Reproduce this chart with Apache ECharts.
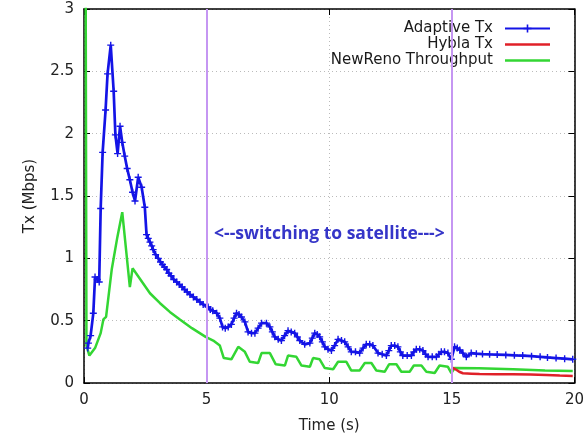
<!DOCTYPE html>
<html>
<head>
<meta charset="utf-8">
<title>Tx chart</title>
<script src="https://cdn.jsdelivr.net/npm/echarts@6/dist/echarts.min.js"></script>
<style>
    html, body { margin: 0; padding: 0; background: #fff; }
    #TxChart { width: 587px; height: 442px; }
</style>
</head>
<body>
<div id="TxChart"></div>
<script>
// time (s), Mbps
var adaptiveTx = [
    [0.15, 0.28], [0.18, 0.32], [0.27, 0.38], [0.38, 0.56], [0.45, 0.85], [0.54, 0.83], [0.62, 0.81],
    [0.68, 1.40], [0.76, 1.85], [0.88, 2.19], [0.96, 2.48], [1.09, 2.71], [1.21, 2.34], [1.28, 1.99],
    [1.37, 1.84], [1.47, 2.06], [1.56, 1.93], [1.66, 1.82], [1.76, 1.72], [1.87, 1.63], [1.98, 1.53],
    [2.08, 1.46], [2.21, 1.65], [2.35, 1.57], [2.48, 1.41], [2.55, 1.19], [2.62, 1.16], [2.69, 1.13],
    [2.76, 1.10], [2.82, 1.07], [2.92, 1.03], [3.03, 1.00], [3.12, 0.97], [3.2, 0.95], [3.28, 0.93],
    [3.37, 0.91], [3.46, 0.88], [3.55, 0.86], [3.66, 0.83], [3.78, 0.81], [3.89, 0.79], [4.0, 0.77],
    [4.1, 0.75], [4.21, 0.73], [4.32, 0.71], [4.46, 0.69], [4.6, 0.67], [4.73, 0.65], [4.86, 0.63],
    [5.06, 0.61], [5.15, 0.59], [5.25, 0.58], [5.41, 0.56], [5.54, 0.52], [5.65, 0.45], [5.76, 0.44],
    [5.88, 0.45], [6.01, 0.47], [6.12, 0.52], [6.22, 0.56], [6.32, 0.55], [6.42, 0.53], [6.56, 0.49],
    [6.69, 0.41], [6.83, 0.40], [6.97, 0.40], [7.1, 0.44], [7.24, 0.48], [7.44, 0.48], [7.58, 0.45],
    [7.68, 0.41], [7.78, 0.37], [7.92, 0.35], [8.05, 0.34], [8.18, 0.38], [8.32, 0.42], [8.45, 0.41],
    [8.59, 0.40], [8.7, 0.37], [8.80, 0.34], [9.00, 0.31], [9.21, 0.32], [9.31, 0.36], [9.41, 0.40],
    [9.51, 0.39], [9.61, 0.37], [9.72, 0.33], [9.82, 0.29], [9.95, 0.27], [10.09, 0.26], [10.22, 0.30],
    [10.36, 0.35], [10.5, 0.34], [10.63, 0.33], [10.77, 0.29], [10.90, 0.25], [11.07, 0.25],
    [11.24, 0.24], [11.38, 0.28], [11.51, 0.31], [11.65, 0.31], [11.78, 0.30], [11.99, 0.24],
    [12.16, 0.23], [12.33, 0.22], [12.43, 0.26], [12.53, 0.30], [12.67, 0.30], [12.80, 0.29],
    [12.9, 0.25], [13.00, 0.22], [13.18, 0.22], [13.35, 0.22], [13.45, 0.25], [13.55, 0.27],
    [13.69, 0.27], [13.82, 0.26], [13.93, 0.23], [14.03, 0.21], [14.2, 0.21], [14.37, 0.21],
    [14.47, 0.23], [14.57, 0.25], [14.7, 0.25], [14.84, 0.24], [14.98, 0.19], [15.11, 0.29],
    [15.22, 0.28], [15.32, 0.265], [15.45, 0.24], [15.59, 0.21], [15.79, 0.24], [16.0, 0.235],
    [16.25, 0.232], [16.54, 0.23], [16.85, 0.228], [17.2, 0.225], [17.55, 0.222], [17.89, 0.22],
    [18.25, 0.215], [18.6, 0.21], [18.9, 0.205], [19.25, 0.20], [19.6, 0.195], [19.93, 0.19]
];
var hyblaTx = [
    [15.0, 0.126], [15.15, 0.11], [15.3, 0.09], [15.45, 0.078], [15.8, 0.075], [16.13, 0.072],
    [16.8, 0.071], [17.49, 0.07], [18.2, 0.068], [18.85, 0.065], [19.4, 0.06], [19.93, 0.056]
];
var newRenoThroughput = [
    [0.06, 4.0], [0.1, 0.30], [0.22, 0.22], [0.45, 0.28], [0.68, 0.40], [0.79, 0.51], [0.90, 0.53],
    [1.13, 0.91], [1.36, 1.17], [1.56, 1.37], [1.87, 0.77], [1.98, 0.92], [2.3, 0.83], [2.69, 0.72],
    [3.1, 0.64], [3.5, 0.57], [3.91, 0.51], [4.4, 0.44], [4.96, 0.37], [5.27, 0.34], [5.54, 0.30],
    [5.70, 0.20], [6.01, 0.19], [6.29, 0.29], [6.56, 0.25], [6.76, 0.17], [7.10, 0.16], [7.24, 0.24],
    [7.58, 0.24], [7.82, 0.15], [8.19, 0.14], [8.32, 0.22], [8.66, 0.21], [8.87, 0.14], [9.21, 0.13],
    [9.34, 0.20], [9.61, 0.19], [9.82, 0.12], [10.16, 0.11], [10.36, 0.17], [10.70, 0.17],
    [10.90, 0.10], [11.24, 0.10], [11.45, 0.16], [11.72, 0.16], [11.92, 0.10], [12.26, 0.09],
    [12.44, 0.15], [12.74, 0.15], [12.94, 0.09], [13.28, 0.09], [13.45, 0.14], [13.76, 0.14],
    [13.96, 0.09], [14.30, 0.08], [14.50, 0.14], [14.84, 0.13], [14.98, 0.08], [15.11, 0.12],
    [16.1, 0.118], [17.5, 0.11], [18.8, 0.10], [19.93, 0.096]
];
var switchTimes = [5, 15];
var xTicks = { min: 0, max: 20, interval: 5 };
var yTicks = { min: 0, max: 3, interval: 0.5 };

var plusSymbol = 'path://M4,0h2v4h4v2h-4v4h-2v-4h-4v-2h4z';
var lineIcon = 'path://M0,0h45v2.5h-45z';

function drawTxChart() {
    var chartDom = document.getElementById('TxChart');
    var myChart = echarts.init(chartDom);
    var font = 'DejaVu Sans';
    var option;

    option = {
        animation: false,
        grid: { left: 84, right: 12, top: 9, bottom: 59, show: false },
        legend: {
            orient: 'vertical',
            right: 31,
            top: 16,
            align: 'right',
            itemWidth: 45,
            itemHeight: 10,
            itemGap: 1,
            textStyle: { fontFamily: font, fontSize: 15, color: '#1a1a1a', lineHeight: 15, padding: [0, 7, 0, 0] },
            data: [
                { name: 'Adaptive Tx' },
                { name: 'Hybla Tx', icon: lineIcon },
                { name: 'NewReno Throughput', icon: lineIcon }
            ]
        },
        graphic: [{
            type: 'text',
            left: 214,
            top: 225,
            style: {
                text: '<--switching to satellite--->',
                fill: '#3535c8',
                font: 'bold 17.5px "Open Sans"'
            }
        }],
        xAxis: [{
            type: 'value',
            min: xTicks.min, max: xTicks.max, interval: xTicks.interval,
            name: 'Time (s)',
            nameLocation: 'middle',
            nameGap: 36,
            nameTextStyle: { fontFamily: font, fontSize: 15, color: '#222' },
            axisLine: { show: true, lineStyle: { color: '#000', width: 1.5 } },
            axisTick: { show: true, inside: true, length: 6, lineStyle: { color: '#000' } },
            axisLabel: { fontFamily: font, fontSize: 15, color: '#222', margin: 10 },
            splitLine: { show: true, lineStyle: { color: '#bbb', type: [1, 3], width: 1 } }
        }, {
            type: 'value',
            position: 'top',
            min: xTicks.min, max: xTicks.max, interval: xTicks.interval,
            axisLine: { show: true, onZero: false, lineStyle: { color: '#000', width: 1.5 } },
            axisTick: { show: true, inside: true, length: 6, lineStyle: { color: '#000' } },
            axisLabel: { show: false },
            splitLine: { show: false }
        }],
        yAxis: [{
            type: 'value',
            min: yTicks.min, max: yTicks.max, interval: yTicks.interval,
            name: 'Tx (Mbps)',
            nameLocation: 'middle',
            nameGap: 46,
            nameTextStyle: { fontFamily: font, fontSize: 15, color: '#222' },
            axisLine: { show: true, lineStyle: { color: '#000', width: 1.5 } },
            axisTick: { show: true, inside: true, length: 6, lineStyle: { color: '#000' } },
            axisLabel: { fontFamily: font, fontSize: 15, color: '#222', margin: 10 },
            splitLine: { show: true, lineStyle: { color: '#bbb', type: [1, 3], width: 1 } }
        }, {
            type: 'value',
            position: 'right',
            min: yTicks.min, max: yTicks.max, interval: yTicks.interval,
            axisLine: { show: true, onZero: false, lineStyle: { color: '#000', width: 1.5 } },
            axisTick: { show: true, inside: true, length: 6, lineStyle: { color: '#000' } },
            axisLabel: { show: false },
            splitLine: { show: false }
        }],
        series: [{
            name: 'NewReno Throughput',
            type: 'line',
            data: newRenoThroughput,
            showSymbol: false,
            symbol: 'none',
            clip: true,
            lineStyle: { color: '#33d633', width: 2.5 },
            itemStyle: { color: '#33d633' },
            z: 2,
            markLine: {
                silent: true,
                symbol: 'none',
                label: { show: false },
                lineStyle: { color: '#c596f2', width: 2, type: 'solid' },
                data: switchTimes.map(function (t) { return { xAxis: t }; })
            }
        }, {
            name: 'Hybla Tx',
            type: 'line',
            data: hyblaTx,
            symbol: 'none',
            lineStyle: { color: '#e02028', width: 2.5 },
            itemStyle: { color: '#e02028' },
            z: 3
        }, {
            name: 'Adaptive Tx',
            type: 'line',
            data: adaptiveTx,
            symbol: plusSymbol,
            symbolSize: 7,
            showAllSymbol: true,
            lineStyle: { color: '#1414e6', width: 2.7 },
            itemStyle: { color: '#1414e6' },
            z: 4
        }]
    };

    option && myChart.setOption(option);
}

drawTxChart();
</script>
</body>
</html>
